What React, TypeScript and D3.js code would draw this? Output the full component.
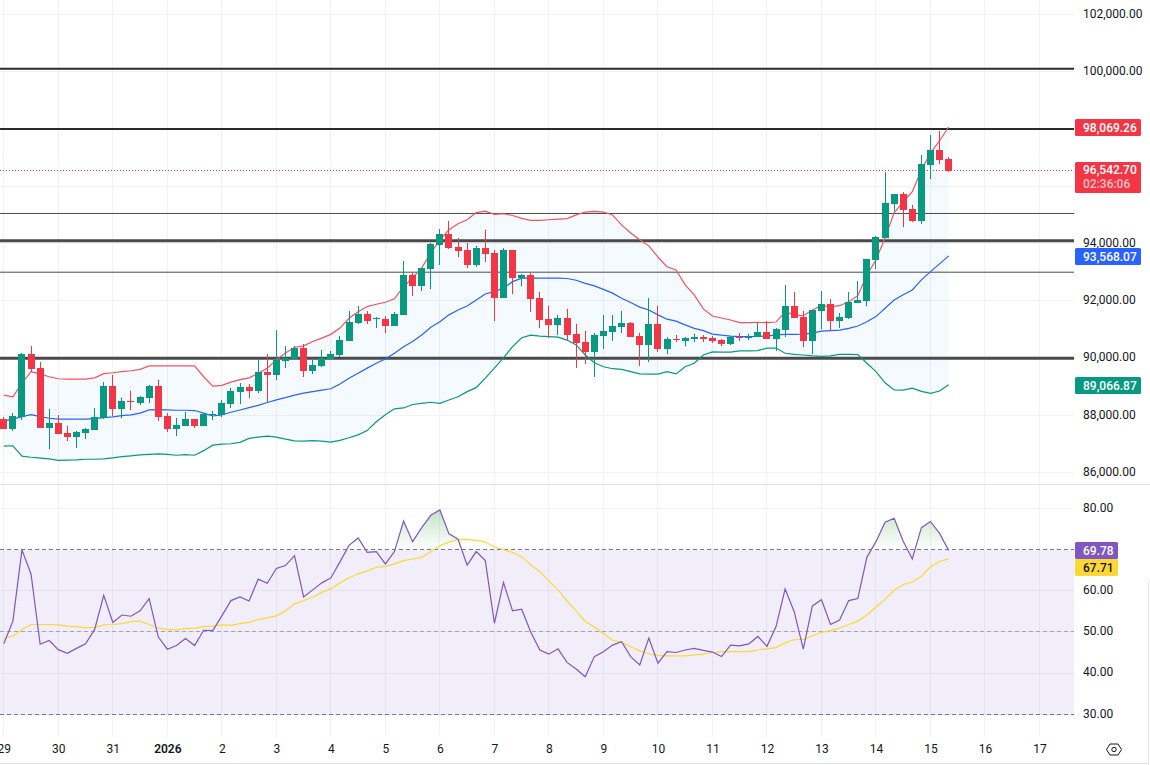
import React, { useRef, useEffect } from 'react';
import * as d3 from 'd3';

// 4h bars, index 0 is Dec 29 00:00
const opens = [
  87880, 87530, 87940, 90150, 89660, 87570, 87740, 87390, 87250, 87390,
  87490, 87910, 89030, 88220, 88500, 88430, 88610, 89030, 87980, 87530,
  87630, 87880, 87630, 88000, 88020, 88400, 88820, 88990, 88850, 89520,
  89410, 89900, 89970, 90350, 89550, 89730, 89970, 90110, 90600, 91230,
  91540, 91370, 91370, 91120, 91510, 92900, 92520, 93110, 93950, 94340,
  93880, 93780, 93250, 93850, 93670, 92100, 93780, 92800, 92900, 92100,
  91370, 91160, 91400, 90840, 90560, 90220, 90770, 90910, 91090, 91230,
  90770, 90460, 91190, 90320, 90680, 90600, 90670, 90740, 90700, 90630,
  90490, 90740, 90700, 90740, 90910, 90670, 90980, 91820, 91440, 90600,
  91650, 91890, 91300, 91400, 91930, 91990, 93430, 94200, 95380, 95730,
  95210, 94790, 96750, 97270, 96950,
];
const highs = [
  87940, 88070, 90170, 90430, 89870, 88220, 88020, 87630, 87460, 87560,
  88260, 89170, 89410, 88610, 88850, 88680, 89060, 89240, 88090, 87910,
  88120, 87890, 88090, 88150, 88540, 88960, 89130, 89100, 89970, 90150,
  90980, 90430, 90430, 90490, 90010, 90290, 90250, 90770, 91650, 91820,
  91650, 91440, 91470, 91610, 93390, 92970, 93160, 94020, 94510, 94790,
  94200, 94020, 93920, 94480, 93780, 93850, 93790, 92940, 92970, 92310,
  91820, 91510, 91720, 91190, 90950, 90880, 91510, 91510, 91650, 91260,
  90880, 92100, 91820, 90740, 90810, 90740, 90840, 90810, 90770, 90670,
  90770, 90880, 90840, 91230, 91300, 91050, 92560, 92310, 91650, 91690,
  92350, 92070, 91580, 92310, 92690, 93470, 94270, 96500, 95740, 95800,
  95350, 97100, 97790, 97930, 97020,
];
const lows = [
  87520, 87460, 87840, 89530, 87560, 86830, 87340, 87120, 86860, 87180,
  87480, 87880, 87980, 87910, 88190, 88360, 88430, 87810, 87420, 87280,
  87620, 87560, 87620, 87840, 87950, 88260, 88400, 88610, 88780, 88470,
  89240, 89670, 89960, 89350, 89450, 89690, 89960, 90040, 90590, 91190,
  91190, 91050, 90880, 91110, 91500, 92170, 92350, 92420, 93250, 93810,
  93530, 93150, 93180, 93360, 91300, 92090, 92240, 92520, 91610, 91050,
  90700, 90810, 90630, 89660, 89800, 89340, 90320, 90600, 90880, 90730,
  89730, 89870, 90220, 90150, 90560, 90430, 90560, 90560, 90530, 90430,
  90460, 90600, 90630, 90730, 90660, 90250, 90740, 91390, 90390, 90150,
  91020, 90950, 91050, 91370, 91920, 91820, 93110, 94190, 95140, 94580,
  94750, 94680, 96260, 96780, 96500,
];
const closes = [
  87530, 87980, 90150, 89620, 87570, 87740, 87350, 87250, 87420, 87530,
  87950, 89030, 88220, 88500, 88470, 88640, 89030, 87950, 87530, 87670,
  87880, 87630, 88050, 88050, 88430, 88850, 88990, 88850, 89520, 89410,
  89940, 90020, 90350, 89550, 89760, 90010, 90150, 90630, 91260, 91540,
  91300, 91400, 91120, 91540, 92900, 92520, 93150, 93990, 94340, 93850,
  93740, 93250, 93850, 93640, 92100, 93780, 92800, 92900, 92070, 91330,
  91160, 91400, 90810, 90530, 90220, 90810, 90950, 91120, 91230, 90740,
  90460, 91190, 90320, 90670, 90650, 90700, 90740, 90670, 90600, 90490,
  90740, 90700, 90740, 90910, 90670, 91020, 91820, 91400, 90600, 91680,
  91890, 91300, 91440, 91960, 92030, 93460, 94230, 95420, 95730, 95170,
  94790, 96780, 97270, 96920, 96542.7,
];

// Bollinger bands
const bbUpper = [
  88710, 88650, 89130, 89530, 89450, 89350, 89280, 89270, 89270, 89270,
  89310, 89460, 89490, 89530, 89560, 89610, 89730, 89730, 89730, 89730,
  89730, 89730, 89350, 89020, 89050, 89160, 89250, 89310, 89470, 89650,
  89940, 90180, 90380, 90430, 90580, 90700, 90830, 91050, 91390, 91620,
  91800, 91880, 91950, 92070, 92500, 92800, 93150, 93670, 94130, 94480,
  94690, 94830, 95080, 95130, 95020, 95040, 94980, 94880, 94810, 94810,
  94830, 94850, 94870, 95000, 95100, 95120, 95100, 95000, 94650, 94370,
  94130, 93920, 93530, 93190, 93080, 92560, 92210, 91720, 91470, 91400,
  91330, 91240, 91240, 91250, 91240, 91260, 91620, 91510, 91480, 91680,
  91830, 91800, 91830, 91970, 92180, 92900, 93430, 94200, 95070, 95460,
  95810, 96570, 97160, 97590, 98069.26,
];
const bbBasis = [
  87810, 87870, 87960, 88030, 87960, 87900, 87870, 87870, 87870, 87870,
  87890, 87920, 87950, 87990, 88020, 88080, 88190, 88200, 88190, 88180,
  88180, 88170, 88080, 87980, 88020, 88110, 88190, 88270, 88350, 88450,
  88540, 88620, 88710, 88780, 88830, 88880, 88930, 89100, 89300, 89470,
  89650, 89820, 89970, 90170, 90400, 90580, 90810, 91080, 91270, 91510,
  91680, 91820, 92030, 92240, 92320, 92440, 92670, 92790, 92800, 92790,
  92790, 92790, 92780, 92720, 92610, 92520, 92400, 92270, 92090, 91940,
  91780, 91680, 91510, 91360, 91290, 91160, 91040, 90960, 90840, 90800,
  90770, 90750, 90750, 90760, 90770, 90810, 90830, 90830, 90840, 90870,
  90940, 90960, 90980, 91040, 91120, 91270, 91450, 91740, 92030, 92210,
  92380, 92730, 93020, 93290, 93568.07,
];
const bbLower = [
  86930, 86940, 86580, 86540, 86510, 86480, 86430, 86440, 86450, 86470,
  86470, 86480, 86520, 86560, 86590, 86620, 86640, 86660, 86640, 86610,
  86630, 86610, 86770, 86960, 87000, 87010, 87060, 87200, 87240, 87280,
  87240, 87170, 87110, 87100, 87120, 87100, 87070, 87130, 87220, 87320,
  87470, 87780, 88020, 88230, 88260, 88380, 88420, 88460, 88420, 88540,
  88650, 88830, 88970, 89300, 89650, 90010, 90400, 90710, 90800, 90770,
  90750, 90730, 90630, 90460, 90110, 89840, 89700, 89630, 89610, 89530,
  89450, 89440, 89440, 89530, 89450, 89700, 89820, 90110, 90220, 90210,
  90210, 90250, 90250, 90260, 90350, 90350, 90170, 90130, 90110, 90080,
  90060, 90080, 90130, 90130, 90120, 89820, 89530, 89140, 88890, 88880,
  88950, 88840, 88770, 88850, 89066.87,
];

const rsi = [
  47.1, 52.6, 69.9, 64, 47, 47.9, 45.7, 44.8, 46, 47.1,
  50.6, 58.9, 52.3, 54.1, 53.8, 55.1, 58.1, 48.8, 45.8, 46.7,
  48.4, 46.7, 50.4, 50.3, 53.9, 57.6, 58.5, 57.5, 62.8, 61.8,
  65.4, 66.1, 68.5, 58.5, 60.2, 61.9, 63.1, 67, 71, 72.8,
  69.3, 69.5, 66.5, 69.5, 76.9, 71.9, 75.3, 78.3, 79.6, 73.8,
  72.5, 66.2, 69.5, 67.3, 52.1, 62, 55.1, 55.5, 50, 45.6,
  44.6, 45.9, 42.6, 41, 39.1, 44, 45.2, 46.8, 47.6, 44,
  42, 48.5, 42.4, 45.2, 45, 45.6, 46, 45.5, 45.1, 44,
  46.8, 46.6, 47.1, 48.9, 46.5, 51.3, 60.4, 54.9, 45.8, 56.3,
  57.8, 51.8, 52.9, 57.6, 58.1, 68.1, 71.9, 76.6, 77.6, 72,
  67.7, 75.3, 76.8, 73.9, 69.78,
];
const rsiMa = [
  48.4, 49, 50.5, 51.8, 51.8, 51.8, 51.7, 51.4, 51.3, 51,
  51.1, 51.7, 51.8, 52, 52.5, 52.6, 51.8, 50.9, 50.6, 50.5,
  50.8, 50.9, 51.3, 51.4, 51.7, 51.6, 52, 52.3, 53, 53.4,
  53.9, 55.1, 56.8, 57.6, 58.4, 59.6, 60.5, 61.9, 63.1, 64.1,
  64.8, 65.7, 65.9, 66.5, 67.3, 67.7, 68.1, 69.5, 70.9, 71.8,
  72.4, 72.4, 72.2, 71.8, 70.6, 70, 69.3, 68.2, 66.3, 64.6,
  62.4, 60.2, 57.5, 55.1, 52.6, 51.2, 49.6, 47.9, 47.5, 46.4,
  45.4, 44.7, 44.3, 44.2, 44.2, 44.2, 44.4, 44.6, 45, 45.2,
  45.2, 45.2, 45.2, 45.6, 45.9, 46.2, 47.4, 48.1, 48.2, 49,
  49.9, 50.3, 50.9, 51.8, 52.6, 54.1, 56, 57.9, 60.1, 61.5,
  62.1, 63.5, 65.8, 67.1, 67.71,
];

const heavyLevels = [94100, 90000];
const mediumLevels = [100100, 98000];
const thinLevels = [95050, 93000];

const priceGrid = [102000, 100000, 98000, 96000, 94000, 92000, 90000, 88000, 86000];
// 98,000 and 96,000 sit under the price tags
const priceLabels = [102000, 100000, 94000, 92000, 90000, 88000, 86000];
const rsiTicks = [80, 60, 50, 40, 30];
const dayLabels = ['29', '30', '31', '2026', '2', '3', '4', '5', '6', '7', '8', '9', '10', '11', '12', '13', '14', '15', '16', '17'];
const countdown = '02:36:06';

const GREEN = '#089981';
const RED = '#f23645';
const BLUE = '#2962ff';
const PURPLE = '#7e57c2';
const YELLOW = '#fdd835';
const GRID = '#f0f2f5';
const FONT = 'Roboto, sans-serif';

const App: React.FC = () => {
  const ref = useRef<SVGSVGElement | null>(null);

  useEffect(() => {
    if (!ref.current) return;
    const svg = d3.select(ref.current);
    svg.selectAll('*').remove();

    const plotRight = 1074;
    const barsPerDay = 6;
    const index = d3.range(closes.length);
    const dayIndex = dayLabels.map((_, i) => i * barsPerDay);

    const x = d3.scaleLinear().domain([0, 114]).range([3.8, 1039.5]);
    const y = d3.scaleLinear().domain([86000, 102000]).range([472.7, 14.4]);
    const yRsi = d3.scaleLinear().domain([30, 80]).range([714.3, 508.3]);

    const defs = svg.append('defs');
    defs.append('clipPath').attr('id', 'above70')
      .append('rect').attr('x', 0).attr('y', 0).attr('width', plotRight).attr('height', yRsi(70));
    const grad = defs.append('linearGradient').attr('id', 'obFill')
      .attr('gradientUnits', 'userSpaceOnUse')
      .attr('x1', 0).attr('x2', 0).attr('y1', yRsi(80)).attr('y2', yRsi(70));
    grad.append('stop').attr('offset', 0).attr('stop-color', '#4caf50').attr('stop-opacity', 0.35);
    grad.append('stop').attr('offset', 1).attr('stop-color', '#4caf50').attr('stop-opacity', 0);

    // Grid
    svg.append('g').selectAll('line').data(dayIndex).join('line')
      .attr('x1', d => Math.floor(x(d)) + 0.5).attr('x2', d => Math.floor(x(d)) + 0.5)
      .attr('y1', 0).attr('y2', 737)
      .attr('stroke', GRID);
    svg.append('g').selectAll('line').data(priceGrid).join('line')
      .attr('x1', 0).attr('x2', plotRight)
      .attr('y1', d => Math.floor(y(d)) + 0.5).attr('y2', d => Math.floor(y(d)) + 0.5)
      .attr('stroke', GRID);

    // Pane separator and bottom edge
    svg.append('line').attr('x1', 0).attr('x2', 1150).attr('y1', 484.5).attr('y2', 484.5).attr('stroke', '#e0e3eb');
    svg.append('line').attr('x1', 0).attr('x2', 1150).attr('y1', 763.5).attr('y2', 763.5).attr('stroke', '#e0e3eb');

    // RSI background
    svg.append('rect')
      .attr('x', 0).attr('width', plotRight)
      .attr('y', yRsi(70)).attr('height', yRsi(30) - yRsi(70))
      .attr('fill', PURPLE).attr('fill-opacity', 0.1);
    svg.append('g').selectAll('line').data(rsiTicks).join('line')
      .attr('x1', 0).attr('x2', plotRight)
      .attr('y1', d => Math.floor(yRsi(d)) + 0.5).attr('y2', d => Math.floor(yRsi(d)) + 0.5)
      .attr('stroke', d => (d === 80 ? GRID : '#e4e0ee'));
    [[70, 1], [50, 0.6], [30, 1]].forEach(([v, op]) => {
      svg.append('line')
        .attr('x1', 0).attr('x2', plotRight)
        .attr('y1', Math.floor(yRsi(v)) + 0.5).attr('y2', Math.floor(yRsi(v)) + 0.5)
        .attr('stroke', '#787b86').attr('stroke-opacity', op)
        .attr('stroke-dasharray', '4 3');
    });

    // Bollinger fill
    const bandArea = d3.area<number>()
      .x(d => x(d))
      .y0(d => y(bbLower[d]))
      .y1(d => y(bbUpper[d]));
    svg.append('path').attr('d', bandArea(index)).attr('fill', '#2196f3').attr('fill-opacity', 0.05);

    // Horizontal levels
    const levels = (data: number[], color: string, w: number) => {
      svg.append('g').selectAll('line').data(data).join('line')
        .attr('x1', 0).attr('x2', plotRight)
        .attr('y1', d => y(d)).attr('y2', d => y(d))
        .attr('stroke', color).attr('stroke-width', w);
    };
    levels(thinLevels, '#4a4a4a', 1);
    levels(mediumLevels, '#2b2b2b', 2);
    levels(heavyLevels, '#4a4a4a', 3);

    // Last price line
    svg.append('line')
      .attr('x1', 0).attr('x2', plotRight)
      .attr('y1', Math.floor(y(96542.7)) + 0.5).attr('y2', Math.floor(y(96542.7)) + 0.5)
      .attr('stroke', RED).attr('stroke-dasharray', '1 2');

    // Bollinger lines
    const bandLine = (vals: number[]) => d3.line<number>().x(d => x(d)).y(d => y(vals[d]));
    ([[bbUpper, '#f7525f'], [bbBasis, BLUE], [bbLower, GREEN]] as [number[], string][]).forEach(([vals, color]) => {
      svg.append('path').attr('d', bandLine(vals)(index))
        .attr('fill', 'none').attr('stroke', color).attr('stroke-width', 1.2);
    });

    // Candles
    const isUp = (i: number) => closes[i] >= opens[i];
    const candles = svg.append('g');
    candles.selectAll('.wick').data(index).join('rect')
      .attr('class', 'wick')
      .attr('x', d => Math.floor(x(d)))
      .attr('width', 1)
      .attr('y', d => Math.round(y(highs[d])))
      .attr('height', d => Math.max(1, Math.round(y(lows[d])) - Math.round(y(highs[d]))))
      .attr('fill', d => (isUp(d) ? GREEN : RED));
    candles.selectAll('.body').data(index).join('rect')
      .attr('class', 'body')
      .attr('x', d => Math.floor(x(d)) - 3)
      .attr('width', 7)
      .attr('y', d => Math.round(y(Math.max(opens[d], closes[d]))))
      .attr('height', d => Math.max(1, Math.round(y(Math.min(opens[d], closes[d]))) - Math.round(y(Math.max(opens[d], closes[d])))))
      .attr('fill', d => (isUp(d) ? GREEN : RED));

    // RSI overbought fill, line and MA
    const obArea = d3.area<number>().x(d => x(d)).y0(yRsi(70)).y1(d => yRsi(rsi[d]));
    svg.append('path').attr('d', obArea(index)).attr('fill', 'url(#obFill)').attr('clip-path', 'url(#above70)');
    svg.append('path')
      .attr('d', d3.line<number>().x(d => x(d)).y(d => yRsi(rsiMa[d]))(index))
      .attr('fill', 'none').attr('stroke', YELLOW).attr('stroke-width', 1.2);
    svg.append('path')
      .attr('d', d3.line<number>().x(d => x(d)).y(d => yRsi(rsi[d]))(index))
      .attr('fill', 'none').attr('stroke', PURPLE).attr('stroke-width', 1.2);

    // Axes
    const styleAxis = (g: d3.Selection<SVGGElement, unknown, null, undefined>) => {
      g.attr('font-family', FONT).attr('font-size', 12);
      g.select('.domain').remove();
      g.selectAll('.tick line').remove();
      g.selectAll('text').attr('fill', '#131722');
    };
    const priceAxis = svg.append('g').attr('transform', 'translate(1074,-1)') as any;
    priceAxis.call(d3.axisRight(y).tickValues(priceLabels).tickFormat(d3.format(',.2f') as any).tickSize(0).tickPadding(9));
    styleAxis(priceAxis);
    const rsiAxis = svg.append('g').attr('transform', 'translate(1074,-1)') as any;
    rsiAxis.call(d3.axisRight(yRsi).tickValues(rsiTicks).tickFormat(d3.format('.2f') as any).tickSize(0).tickPadding(9));
    styleAxis(rsiAxis);
    const timeAxis = svg.append('g').attr('transform', 'translate(0,744)') as any;
    timeAxis.call(d3.axisBottom(x).tickValues(dayIndex).tickFormat((_: any, i: number) => dayLabels[i]).tickSize(0).tickPadding(0));
    styleAxis(timeAxis);
    timeAxis.selectAll('text').filter((_: any, i: number) => dayLabels[i] === '2026').attr('font-weight', 600);

    // Price tags
    const tag = (top: number, h: number, w: number, fill: string) =>
      svg.append('rect').attr('x', 1075).attr('y', top).attr('width', w).attr('height', h).attr('rx', 1.5).attr('fill', fill);
    const tagText = (cy: number, s: string, fill = '#fff', op = 1) =>
      svg.append('text').attr('x', 1083).attr('y', cy).attr('dy', '.35em')
        .attr('font-family', FONT).attr('font-size', 12).attr('font-weight', 500)
        .attr('fill', fill).attr('fill-opacity', op).text(s);
    const fmtPrice = d3.format(',.2f');
    const fmtRsi = d3.format('.2f');

    ([[bbUpper, RED], [bbBasis, BLUE], [bbLower, GREEN]] as [number[], string][]).forEach(([vals, color]) => {
      const v = vals[vals.length - 1];
      const cy = Math.round(y(v)) + 0.5;
      tag(cy - 8.5, 17, 66, color);
      tagText(cy, fmtPrice(v));
    });
    const last = closes[closes.length - 1];
    const lastY = y(last);
    tag(Math.round(lastY) - 9, 31, 66, RED);
    tagText(lastY - 0.5, fmtPrice(last));
    tagText(lastY + 13, countdown, '#fff', 0.7);

    const rsiY = Math.round(yRsi(rsi[rsi.length - 1])) + 0.5;
    tag(rsiY - 8.5, 17, 43, PURPLE);
    tagText(rsiY, fmtRsi(rsi[rsi.length - 1]));
    tag(rsiY + 8.5, 17, 43, YELLOW);
    tagText(rsiY + 17, fmtRsi(rsiMa[rsiMa.length - 1]), '#131722');

    // Settings icon
    const icon = svg.append('g').attr('transform', 'translate(1114,749.5)')
      .attr('fill', 'none').attr('stroke', '#131722').attr('stroke-width', 1);
    icon.append('path').attr('d', 'M-7.5 0L-4 -5.5H4L7.5 0L4 5.5H-4Z');
    icon.append('circle').attr('r', 2.2);

    // Edge of the panel on the right
    svg.append('rect').attr('x', 1148.5).attr('y', 578.5).attr('width', 20).attr('height', 240).attr('rx', 6)
      .attr('fill', '#fff').attr('stroke', '#e6e6e6');
  }, []);

  return (
    <svg
      ref={ref}
      width={1150}
      height={765}
      style={{ position: 'fixed', left: 0, top: 0, background: '#fff' }}
    />
  );
};

export default App;
